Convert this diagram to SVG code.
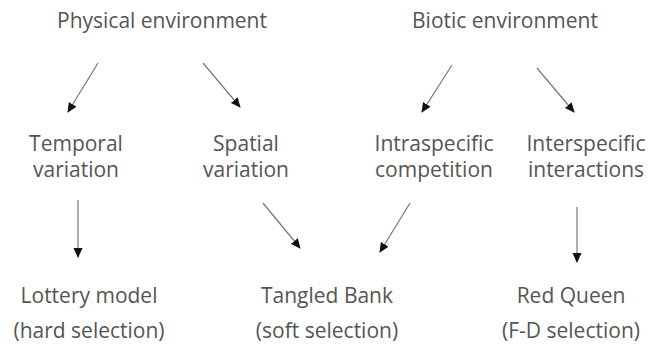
<svg xmlns="http://www.w3.org/2000/svg" width="648" height="349" viewBox="0 0 648 349">
<style>
text{font-family:"Open Sans","DejaVu Sans",sans-serif;font-size:21px;fill:#555;text-anchor:middle}
.c line{stroke:#777;stroke-width:1.2;marker-end:url(#ah)}
</style>
<defs>
<marker id="ah" viewBox="0 0 10 10" refX="9" refY="5" markerWidth="10" markerHeight="10" markerUnits="userSpaceOnUse" orient="auto">
<path d="M0,0.5 L10,5 L0,9.5 Z" fill="#111"/>
</marker>
</defs>
<rect width="648" height="349" fill="#fff"/>
<g id="physical"><text x="162" y="28">Physical environment</text></g>
<g id="biotic"><text x="505" y="28">Biotic environment</text></g>
<g id="temporal"><text x="76" y="151">Temporal</text><text x="76" y="177">variation</text></g>
<g id="spatial"><text x="246" y="151">Spatial</text><text x="246" y="177">variation</text></g>
<g id="intra"><text x="434" y="151">Intraspecific</text><text x="434" y="177">competition</text></g>
<g id="inter"><text x="586" y="151">Interspecific</text><text x="586" y="177">interactions</text></g>
<g id="lottery"><text x="89" y="303">Lottery model</text><text x="89" y="338">(hard selection)</text></g>
<g id="tangled"><text x="327" y="303">Tangled Bank</text><text x="327" y="338">(soft selection)</text></g>
<g id="redqueen"><text x="571" y="303">Red Queen</text><text x="571" y="338">(F-D selection)</text></g>
<g class="c" id="connectors">
<line x1="98" y1="63" x2="68" y2="112"/>
<line x1="203" y1="63" x2="240" y2="107"/>
<line x1="452" y1="65" x2="422" y2="112"/>
<line x1="537" y1="68" x2="574" y2="112"/>
<line x1="78" y1="200" x2="78" y2="257"/>
<line x1="263" y1="203" x2="300" y2="248"/>
<line x1="410" y1="203" x2="380" y2="252"/>
<line x1="577" y1="207" x2="577" y2="262"/>
</g>
</svg>
